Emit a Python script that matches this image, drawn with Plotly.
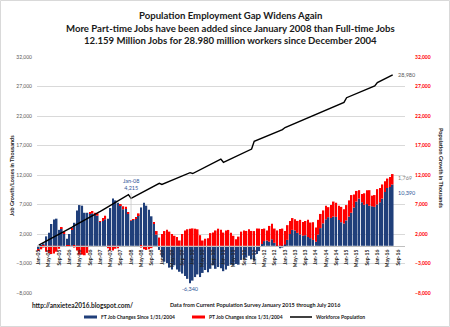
import pandas as pd
import plotly.graph_objects as go

# Monthly observations, Jan 2005 .. Jul 2016 (thousands)
months = pd.date_range("2005-01-01", "2016-07-01", freq="MS")

# Cumulative full-time job changes
ft_change = [
    -600, -200, 400, 1600, 2200, 3700, 4450, 4600, 2700, 2900, 2000, 1200,      # 2005
    2000, 2800, 3900, 6000, 6900, 6800, 5600, 5600, 5400, 5500, 5200, 5100,     # 2006
    4100, 4200, 4500, 4600, 6400, 8000, 7700, 7300, 6900, 6200, 6300, 5400,     # 2007
    4215, 4400, 4700, 5200, 6500, 7300, 6800, 6100, 5000, 3700, 1900, -700,     # 2008
    -2000, -2700, -2900, -3700, -4000, -3300, -4000, -4400, -4700, -5100, -5600, -6340,  # 2009
    -5900, -5300, -4850, -5300, -4600, -4100, -4500, -3900, -3300, -3900, -3600, -3800,  # 2010
    -4300, -4000, -3400, -3200, -3300, -3100, -3200, -2400, -2300, -2000, -1700, -2300,  # 2011
    -2500, -1400, -900, 300, 800, 900, 700, 1100, 500, -100, -400, -300,        # 2012
    200, 1000, 2000, 2700, 2600, 2200, 1900, 1700, 1800, 1500, 1300, 1000,      # 2013
    700, 1900, 3000, 3800, 4500, 4850, 4700, 4950, 4900, 4390, 4000, 3800,      # 2014
    4300, 4950, 5600, 6500, 7500, 8000, 7400, 6950, 7100, 6800, 6700, 6600,     # 2015
    7000, 7400, 8000, 9100, 9800, 9950, 10390,                                  # 2016
]

# Cumulative part-time job changes
pt_change = [
    -250, -400, -300, -1000, -1200, -1400, -1300, -1000, -500, 150, 200, -200,
    -100, 100, -300, -800, -1500, -1500, -1600, -1200, 300, 400, 400, 400,
    100, 500, 600, -400, -800, -800, -500, -400, 100, 500, 300, 200,
    100, 100, 100, 300, -300, -600, -700, -600, -400, 300, 600, 1400,
    2000, 2500, 2700, 2400, 2000, 1700, 1500, 900, 2000, 2600, 2800, 2900,
    2950, 2900, 2800, 1800, 900, 1200, 1300, 2150, 2250, 2600, 2900, 2700,
    2240, 2600, 2690, 2200, 1700, 1100, 1560, 2400, 2600, 2520, 2800, 2520,
    2500, 2920, 2920, 2550, 2120, 1700, 2670, 2650, 2420, 2600, 2850, 2920,
    2320, 2500, 2200, 2000, 1900, 2020, 2500, 2350, 2400, 2900, 2640, 3000,
    2400, 2500, 2400, 2200, 2300, 1700, 2200, 2550, 2400, 2410, 2600, 2400,
    2600, 2750, 3000, 2200, 1800, 1430, 1360, 1950, 2330, 2630, 1800, 2000,
    2600, 2400, 2400, 1850, 1600, 1700, 1769,
]

# Workforce population growth
workforce = [
    100, 330, 570, 790, 1020, 1260, 1490, 1720, 1950, 2170, 2410, 2640,
    2950, 3170, 3410, 3640, 3860, 4100, 4330, 4570, 4800, 5030, 5260, 5500,
    5820, 6080, 6330, 6600, 6850, 7100, 7360, 7630, 7880, 8140, 8400, 8680,
    8050, 8280, 8510, 8750, 8980, 9200, 9440, 9680, 9900, 10130, 10370, 10600,
    10400, 10580, 10770, 10950, 11130, 11300, 11490, 11680, 11860, 12040, 12230, 12400,
    12250, 12470, 12690, 12920, 13140, 13350, 13580, 13810, 14030, 14250, 14480, 14700,
    14150, 14350, 14560, 14770, 14970, 15170, 15380, 15580, 15790, 16000, 16200, 16400,
    17700, 17880, 18060, 18250, 18430, 18610, 18790, 18980, 19150, 19340, 19520, 19700,
    20050, 20240, 20420, 20610, 20800, 20980, 21170, 21360, 21540, 21730, 21910, 22100,
    22300, 22480, 22670, 22850, 23030, 23210, 23390, 23580, 23760, 23940, 24120, 24300,
    25100, 25280, 25460, 25650, 25830, 26010, 26190, 26370, 26560, 26740, 26920, 27100,
    27650, 27870, 28090, 28310, 28540, 28760, 28980,
]

title_lines = [
    "Population Employment Gap Widens Again",
    "More Part-time Jobs have been added since January 2008 than Full-time Jobs",
    "12.159 Million Jobs for 28.980 million workers since December 2004",
]

NAVY = "#203f7a"
RED = "#ff0000"
FONT = "Lato"

W, H = 450, 327
L, R, T, B = 37, 45, 57, 34
PW, PH = W - L - R, H - T - B


def px(x):
    return (x - L) / PW


def py(y):
    return (H - B - y) / PH


def text_at(text, x, y, size, color="#1a1a1a", bold=True, anchor="center", angle=0):
    return dict(text=text, x=px(x), y=py(y), xref="paper", yref="paper",
                showarrow=False, xanchor=anchor, yanchor="middle", textangle=angle,
                font=dict(family=FONT, size=size, color=color,
                          weight="bold" if bold else "normal"))


fig = go.Figure()
fig.add_trace(go.Bar(x=months, y=ft_change, marker=dict(color=NAVY, line=dict(width=0)),
                     name="FT Job Changes Since 1/31/2004", showlegend=False))
fig.add_trace(go.Bar(x=months, y=pt_change, marker=dict(color=RED, line=dict(width=0)),
                     name="PT Job Changes since 1/31/2004", showlegend=False))
fig.add_trace(go.Scatter(x=months, y=workforce, mode="lines", yaxis="y2",
                         line=dict(color="black", width=1.4),
                         name="Workforce Population", showlegend=False))

yticks = dict(range=[-8000, 32000], tick0=-8000, dtick=5000, tickformat=",", ticks="",
              zeroline=False, showline=False)

fig.update_layout(
    width=W, height=H,
    margin=dict(l=L, r=R, t=T, b=B),
    paper_bgcolor="white", plot_bgcolor="white",
    barmode="relative", bargap=0.3,
    font=dict(family=FONT, color="#262626"),
    xaxis=dict(type="date", range=["2004-12-11", "2016-11-24"],
               tick0="2005-01-01", dtick="M4", tickformat="%b-%y", tickangle=-90,
               tickfont=dict(family=FONT, size=5, color="#262626", weight="bold"),
               anchor="free", position=0.2, showline=True, linecolor="#bfbfbf",
               linewidth=0.8, showgrid=False, ticks="", ticklabelstandoff=1),
    yaxis=dict(**yticks, showgrid=True, gridcolor="#d9d9d9", gridwidth=0.7,
               tickfont=dict(family=FONT, size=5, color="#595959"),
               ticklabelstandoff=4),
    yaxis2=dict(**yticks, overlaying="y", side="right", showgrid=False,
                tickfont=dict(family=FONT, size=5, color=RED, weight="bold"),
                ticklabelstandoff=9),
)

ann = []
for txt, yy in zip(title_lines, [15.7, 28.3, 40.7]):
    ann.append(text_at(txt, 230, yy, 9.6))

# Axis titles
ann.append(text_at("Job Growth/Losses in Thousands", 12, 176, 5.5, angle=-90))
ann.append(text_at("Population Growth in Thousands", 441, 168, 5.5, angle=90))

# Data labels
ann.append(dict(text="Jan-08<br>4,215", x=months[36], y=ft_change[36], xref="x", yref="y",
                showarrow=True, arrowhead=0, arrowwidth=0.8, arrowcolor="#c8c8c8",
                ax=0, ay=-36, font=dict(family=FONT, size=5.5, color="#2f5597")))
trough = ft_change.index(min(ft_change))
ann.append(dict(text=f"{ft_change[trough]:,}", x=months[trough], y=ft_change[trough],
                xref="x", yref="y", showarrow=False, yanchor="top", yshift=-1,
                font=dict(family=FONT, size=5.5, color="#2f5597")))
ann.append(dict(text=f"{workforce[-1]:,}", x=months[-1], y=workforce[-1], xref="x", yref="y2",
                showarrow=False, xanchor="left", xshift=3,
                font=dict(family=FONT, size=5.5, color="#595959")))
ann.append(dict(text=f"{pt_change[-1]:,}", x=months[-1], y=ft_change[-1] + 1150,
                xref="x", yref="y", showarrow=False, xanchor="left", xshift=3,
                font=dict(family=FONT, size=5.5, color="#7f7f7f")))
ann.append(dict(text=f"{ft_change[-1]:,}", x=months[-1], y=ft_change[-1] - 1500,
                xref="x", yref="y", showarrow=False, xanchor="left", xshift=3,
                font=dict(family=FONT, size=5.5, color="#2f5597")))

# Footer texts
ann.append(text_at("http://anxietea2016.blogspot.com/", 82, 305, 6.5))
ann.append(text_at("Data from Current Population Survey January 2015 through July 2016",
                   255.5, 305, 5.5))

# Legend
legend_items = [("FT Job Changes Since 1/31/2004", NAVY, "rect", 84, 97),
                ("PT Job Changes since 1/31/2004", RED, "rect", 192, 205),
                ("Workforce Population", "black", "line", 290, 312)]
shapes = []
for label, color, kind, x0, x1 in legend_items:
    if kind == "rect":
        shapes.append(dict(type="rect", xref="paper", yref="paper",
                           x0=px(x0), x1=px(x1), y0=py(318.5), y1=py(315.5),
                           fillcolor=color, line=dict(width=0)))
    else:
        shapes.append(dict(type="line", xref="paper", yref="paper",
                           x0=px(x0), x1=px(x1), y0=py(317), y1=py(317),
                           line=dict(color=color, width=1.5)))
    ann.append(text_at(label, x1 + 1.5, 317, 5, anchor="left"))

# Chart frame
shapes.append(dict(type="rect", xref="paper", yref="paper",
                   x0=px(0.5), x1=px(449.5), y0=py(326.5), y1=py(0.5),
                   line=dict(color="#d9d9d9", width=1), fillcolor="rgba(0,0,0,0)"))

fig.update_layout(annotations=ann, shapes=shapes)
fig.write_html("out.html")
